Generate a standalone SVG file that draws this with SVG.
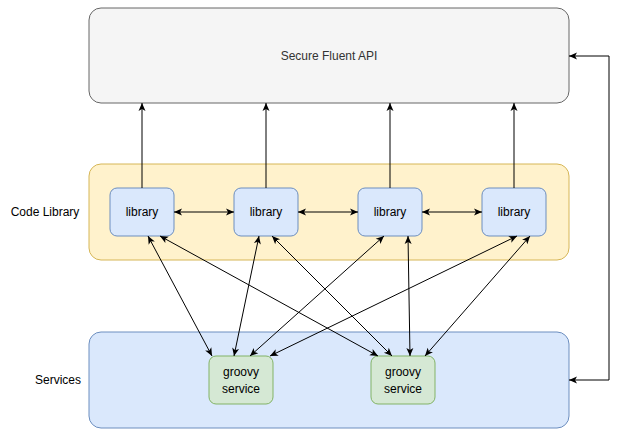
<svg xmlns="http://www.w3.org/2000/svg" width="622" height="433" viewBox="0 0 622 433">
<style>
text{font-family:"Liberation Sans",Arial,sans-serif;font-size:12px;fill:#000}
.lib{fill:#dae8fc;stroke:#6c8ebf}
.gs{fill:#d5e8d4;stroke:#82b366}
.c{fill:none;stroke:#000;stroke-width:1;marker-end:url(#a);marker-start:url(#s)}
.u{fill:none;stroke:#000;stroke-width:1;marker-end:url(#a)}
</style>
<defs>
<marker id="a" markerWidth="10" markerHeight="10" refX="9" refY="5" orient="auto" markerUnits="userSpaceOnUse"><path d="M1,1.5 L9,5 L1,8.5 L3,5 Z" fill="#000"/></marker>
<marker id="s" markerWidth="10" markerHeight="10" refX="1" refY="5" orient="auto" markerUnits="userSpaceOnUse"><path d="M9,1.5 L1,5 L9,8.5 L7,5 Z" fill="#000"/></marker>
</defs>
<g id="api"><rect x="89" y="8" width="480" height="95" rx="12" fill="#f5f5f5" stroke="#666"/><text x="329" y="60" text-anchor="middle" fill="#333" style="fill:#333">Secure Fluent API</text></g>
<g id="codelib"><rect x="89" y="164" width="480" height="96" rx="12" fill="#fff2cc" stroke="#d6b656"/><text x="45" y="216" text-anchor="middle">Code Library</text></g>
<g id="services"><rect x="89" y="332" width="480" height="96" rx="12" fill="#dae8fc" stroke="#6c8ebf"/><text x="58" y="384" text-anchor="middle">Services</text></g>
<g id="lib1"><rect class="lib" x="110" y="188" width="64" height="48" rx="7"/><text x="142" y="216" text-anchor="middle">library</text></g>
<g id="lib2"><rect class="lib" x="234" y="188" width="64" height="48" rx="7"/><text x="266" y="216" text-anchor="middle">library</text></g>
<g id="lib3"><rect class="lib" x="358" y="188" width="64" height="48" rx="7"/><text x="390" y="216" text-anchor="middle">library</text></g>
<g id="lib4"><rect class="lib" x="482" y="188" width="64" height="48" rx="7"/><text x="514" y="216" text-anchor="middle">library</text></g>
<g id="gs1"><rect class="gs" x="209" y="356" width="64" height="48" rx="7"/><text x="241" y="376" text-anchor="middle">groovy</text><text x="241" y="393" text-anchor="middle">service</text></g>
<g id="gs2"><rect class="gs" x="371" y="356" width="64" height="48" rx="7"/><text x="403" y="376" text-anchor="middle">groovy</text><text x="403" y="393" text-anchor="middle">service</text></g>
<g id="connectors">
<path class="u" d="M142,188 V103"/>
<path class="u" d="M266,188 V103"/>
<path class="u" d="M390,188 V103"/>
<path class="u" d="M514,188 V103"/>
<path class="c" d="M174,212 H234"/>
<path class="c" d="M298,212 H358"/>
<path class="c" d="M422,212 H482"/>
<path class="c" d="M569,56 H609 V380 H569"/>
<path class="c" d="M148,236 L212,356"/>
<path class="c" d="M160,236 L378,356"/>
<path class="c" d="M259,236 L234,356"/>
<path class="c" d="M272,236 L392,356"/>
<path class="c" d="M384,236 L250,356"/>
<path class="c" d="M408,236 L410,356"/>
<path class="c" d="M517,236 L270,356"/>
<path class="c" d="M530,236 L425,356"/>
</g>
</svg>
